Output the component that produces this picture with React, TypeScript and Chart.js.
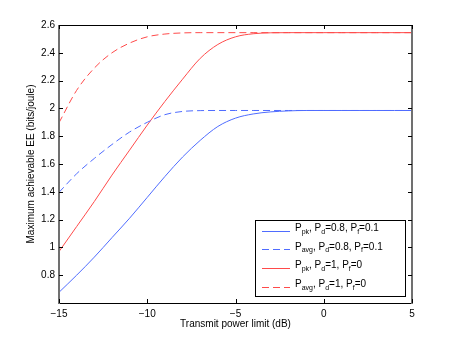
import React, { useEffect, useRef } from 'react';
import { Chart, registerables } from 'chart.js';

Chart.register(...registerables);

// ---------- data ----------
const powerLimits = [-15, -14, -13, -12, -11, -10, -9, -8, -7, -6, -5, -4, -3, -2, -1, 0, 1, 2, 3, 4, 5];
// P_pk, Pd=0.8, Pf=0.1 (blue solid)
const pkLow = [0.677, 0.8, 0.93, 1.07, 1.21, 1.36, 1.51, 1.65, 1.77, 1.87, 1.93, 1.96, 1.975, 1.982, 1.985, 1.985, 1.985, 1.985, 1.985, 1.985, 1.985];
// P_avg, Pd=0.8, Pf=0.1 (blue dashed)
const avgLow = [1.396, 1.53, 1.64, 1.74, 1.83, 1.9, 1.955, 1.978, 1.984, 1.985, 1.985, 1.985, 1.985, 1.985, 1.985, 1.985, 1.985, 1.985, 1.985, 1.985, 1.985];
// P_pk, Pd=1, Pf=0 (red solid)
const pkHigh = [0.97, 1.15, 1.33, 1.52, 1.7, 1.88, 2.05, 2.21, 2.36, 2.46, 2.515, 2.537, 2.544, 2.545, 2.545, 2.545, 2.545, 2.545, 2.545, 2.545, 2.545];
// P_avg, Pd=1, Pf=0 (red dashed)
const avgHigh = [1.897, 2.13, 2.29, 2.4, 2.47, 2.515, 2.535, 2.543, 2.545, 2.545, 2.545, 2.545, 2.545, 2.545, 2.545, 2.545, 2.545, 2.545, 2.545, 2.545, 2.545];

const seriesLabels = [
  'P_{pk}, P_{d}=0.8, P_{f}=0.1',
  'P_{avg}, P_{d}=0.8, P_{f}=0.1',
  'P_{pk}, P_{d}=1, P_{f}=0',
  'P_{avg}, P_{d}=1, P_{f}=0',
];
const xTicks = [-15, -10, -5, 0, 5];
const yTicks = [0.8, 1, 1.2, 1.4, 1.6, 1.8, 2, 2.2, 2.4, 2.6];
const xTitle = 'Transmit power limit (dB)';
const yTitle = 'Maximum achievable EE (bits/joule)';

const BLUE = '#4f6cff';
const RED = '#ff4a4a';
const FONT = '"Liberation Sans", Arial, Helvetica, sans-serif';
const DASH = [7, 4];

function parseRich(s: string): [string, boolean][] {
  const parts: [string, boolean][] = [];
  const re = /_\{([^}]*)\}/g;
  let last = 0;
  let m: RegExpExecArray | null;
  while ((m = re.exec(s))) {
    if (m.index > last) parts.push([s.slice(last, m.index), false]);
    parts.push([m[1], true]);
    last = m.index + m[0].length;
  }
  if (last < s.length) parts.push([s.slice(last), false]);
  return parts;
}

const framePlugin = {
  id: 'frameTicks',
  afterDatasetsDraw(chart: any) {
    const { ctx, chartArea } = chart;
    const { left, right, top, bottom } = chartArea;
    const xs = chart.scales.x;
    const ys = chart.scales.y;
    ctx.save();
    // frame
    ctx.strokeStyle = '#000';
    ctx.lineWidth = 1;
    ctx.beginPath();
    ctx.moveTo(left, top + 0.5);
    ctx.lineTo(right, top + 0.5);
    ctx.moveTo(left, bottom + 0.5);
    ctx.lineTo(right, bottom + 0.5);
    ctx.stroke();
    ctx.strokeStyle = '#707070';
    ctx.lineWidth = 2;
    ctx.beginPath();
    ctx.moveTo(left, top);
    ctx.lineTo(left, bottom + 1);
    ctx.moveTo(right, top);
    ctx.lineTo(right, bottom + 1);
    ctx.stroke();
    // inward ticks
    ctx.strokeStyle = '#000';
    ctx.lineWidth = 1;
    const tl = 4;
    ctx.beginPath();
    for (const v of xTicks) {
      const px = Math.round(xs.getPixelForValue(v)) + 0.5;
      ctx.moveTo(px, bottom);
      ctx.lineTo(px, bottom - tl);
      ctx.moveTo(px, top);
      ctx.lineTo(px, top + tl);
    }
    for (const v of yTicks) {
      const py = Math.round(ys.getPixelForValue(v)) + 0.5;
      ctx.moveTo(left, py);
      ctx.lineTo(left + tl, py);
      ctx.moveTo(right, py);
      ctx.lineTo(right - tl, py);
    }
    ctx.stroke();
    ctx.restore();
  },
};

const legendPlugin = {
  id: 'richLegend',
  afterDraw(chart: any) {
    const { ctx } = chart;
    const bx = 255.5, by = 220.5, bw = 150, bh = 76;
    ctx.save();
    ctx.fillStyle = '#fff';
    ctx.fillRect(bx, by, bw, bh);
    ctx.strokeStyle = '#000';
    ctx.lineWidth = 1;
    ctx.strokeRect(bx, by, bw, bh);
    const rowY0 = 230.5;
    const rowStep = 18.7;
    chart.data.datasets.forEach((ds: any, i: number) => {
      const y = rowY0 + i * rowStep;
      ctx.strokeStyle = ds.borderColor;
      ctx.lineWidth = 1;
      ctx.setLineDash(ds.borderDash || []);
      ctx.beginPath();
      ctx.moveTo(262, Math.round(y) + 0.5);
      ctx.lineTo(290, Math.round(y) + 0.5);
      ctx.stroke();
      ctx.setLineDash([]);
      ctx.fillStyle = '#000';
      ctx.textBaseline = 'alphabetic';
      ctx.textAlign = 'left';
      let x = 295;
      for (const [t, sub] of parseRich(seriesLabels[i])) {
        ctx.font = (sub ? '7px ' : '10px ') + FONT;
        ctx.fillText(t, x, sub ? y + 3 : y + 0.5);
        x += ctx.measureText(t).width;
      }
    });
    ctx.restore();
  },
};

export default function App() {
  const ref = useRef<HTMLCanvasElement | null>(null);
  useEffect(() => {
    if (!ref.current) return;
    const mk = (label: string, data: number[], color: string, dashed: boolean) => ({
      label,
      data: powerLimits.map((x, i) => ({ x, y: data[i] })),
      borderColor: color,
      backgroundColor: color,
      borderWidth: 1,
      borderDash: dashed ? DASH : [],
      pointRadius: 0,
      fill: false,
      cubicInterpolationMode: 'monotone' as const,
    });
    const chart = new Chart(ref.current, {
      type: 'line',
      data: {
        datasets: [
          mk(seriesLabels[0].replace(/[_{}]/g, ''), pkLow, BLUE, false),
          mk(seriesLabels[1].replace(/[_{}]/g, ''), avgLow, BLUE, true),
          mk(seriesLabels[2].replace(/[_{}]/g, ''), pkHigh, RED, false),
          mk(seriesLabels[3].replace(/[_{}]/g, ''), avgHigh, RED, true),
        ],
      },
      options: {
        responsive: false,
        animation: false,
        devicePixelRatio: 1,
        layout: { padding: { top: 25, right: 43, left: 0, bottom: 0 } },
        plugins: { legend: { display: false }, tooltip: { enabled: false } },
        scales: {
          x: {
            type: 'linear',
            min: -15,
            max: 5,
            afterBuildTicks: (s: any) => { s.ticks = xTicks.map((v) => ({ value: v })); },
            afterFit: (s: any) => { s.height = 39; },
            grid: { display: false, drawTicks: false },
            border: { display: false },
            ticks: {
              color: '#000',
              font: { family: FONT, size: 10 },
              padding: 5,
              maxRotation: 0,
              callback: (v: any) => (v < 0 ? '\u2212' + Math.abs(v) : String(v)),
            },
            title: { display: true, text: xTitle, color: '#000', font: { family: FONT, size: 10 }, padding: { top: 0, bottom: 12 } },
          },
          y: {
            type: 'linear',
            min: 0.6,
            max: 2.6,
            afterBuildTicks: (s: any) => { s.ticks = yTicks.map((v) => ({ value: v })); },
            afterFit: (s: any) => { s.width = 59; },
            grid: { display: false, drawTicks: false },
            border: { display: false },
            ticks: {
              color: '#000',
              font: { family: FONT, size: 10 },
              padding: 4,
              callback: (v: any) => String(Math.round(v * 10) / 10),
            },
            title: { display: true, text: yTitle, color: '#000', font: { family: FONT, size: 10 }, padding: { top: 25, bottom: 0 } },
          },
        },
      },
      plugins: [framePlugin, legendPlugin],
    });
    return () => chart.destroy();
  }, []);
  return (
    <div style={{ position: 'fixed', left: 0, top: 0, width: 455, height: 342, background: '#fff' }}>
      <canvas ref={ref} width={455} height={342} style={{ width: 455, height: 342, display: 'block' }} />
    </div>
  );
}
